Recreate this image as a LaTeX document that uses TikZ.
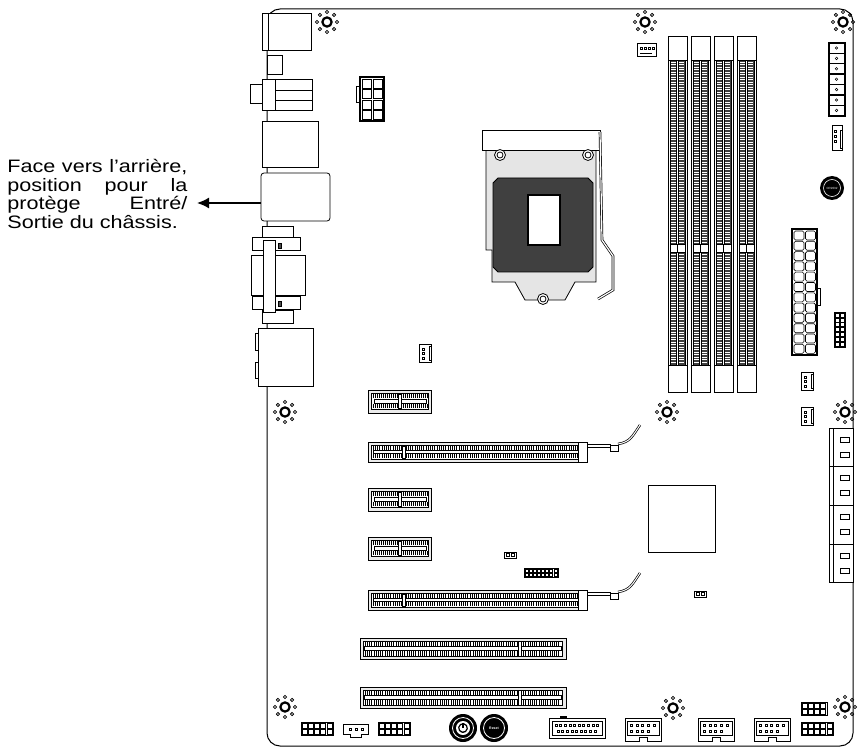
\documentclass[tikz,border=0pt]{standalone}
\usepackage{fontspec}
\setmainfont{Liberation Sans}
\usetikzlibrary{arrows.meta,calc}
\begin{document}
\begin{tikzpicture}[x=1pt,y=-1pt,line width=0.8pt,
  part/.style={draw=black,fill=white},
  dark/.style={draw=black,fill=black!70},
  lbl/.style={anchor=base west,inner sep=0pt,text height=12pt,text depth=3pt,font=\fontsize{18}{18}\selectfont}]
\useasboundingbox (0,0) rectangle (859,751);
\newcommand{\mbhole}[2]{%
  \draw[line width=2.2pt] (#1,#2) circle (4.6);
  \foreach \a in {0,45,...,315}{\draw[line width=0.8pt] ($(#1,#2)+(\a:10)$) circle (1.6);}}
\newcommand{\wline}[1]{\scalebox{1.2}[1]{\makebox[150pt][s]{#1}}}
% board
\draw[line width=1pt,rounded corners=13] (267,9) rectangle (853,746);
% text + arrow
\node[lbl] (t1) at (7,173) {\wline{Face vers l’arrière,}};
\node[lbl] (t2) at (7,191.5) {\wline{position pour la}};
\node[lbl] (t3) at (7,210) {\wline{protège Entré/}};
\node[lbl] (t4) at (7,228.5) {\scalebox{1.2}[1]{Sortie du châssis.}};
\coordinate (arrS) at (267,203);
\coordinate (arrE) at (197,203);
\draw[line width=1.6pt,-{Latex[length=12pt,width=11pt]}] (arrS) -- (arrE);
% I/O shield
\draw[part] (262,13) rectangle (311,50); \draw (268,13) -- (268,50);
\draw[part] (267,55) rectangle (282,74);
\draw[part] (250,84) rectangle (262,103);
\draw[part] (262,79) rectangle (312,110); \draw (275,79) -- (275,110); \draw (275,90) -- (312,90); \draw (275,100)--(312,100);
\draw[part] (262,121) rectangle (318,167);
\draw[part,rounded corners=3] (261,173) rectangle (330,221);
\draw[part] (262,226) rectangle (293,243);
\draw[part] (262,310) rectangle (293,323);
\draw[part] (252,237) rectangle (300,250);
\draw[part] (252,296) rectangle (300,309);
\draw[part] (251,255) rectangle (305,295);
\draw[part] (263,240) rectangle (275,312);
\draw[dark] (278,243) rectangle (281,248); \draw[dark] (278,301) rectangle (281,306);
\draw[part] (258,328) rectangle (313,386);
\draw[part] (255,333) rectangle (258,350); \draw[part] (255,362) rectangle (258,378);
% mounting holes
\mbhole{327}{22}\mbhole{645}{22}\mbhole{843}{22}
\mbhole{285}{412}\mbhole{667}{412}\mbhole{845}{412}
\mbhole{285}{707}\mbhole{673}{708}\mbhole{845}{707}
% CPU 8 pin
\draw[line width=1.5pt,fill=white] (360,77) rectangle (384,121);
\foreach \r in {0,1,2,3}{\foreach \c in {0,1}{\draw[line width=0.6pt] (362+\c*11,79+\r*10.5) rectangle (371+\c*11,88+\r*10.5);}}
\draw (356,86) rectangle (360,102);
% socket
\draw[part,fill=black!10] (486,145) -- (596,145) -- (596,282) -- (575,282) -- (565,300) -- (525,300) -- (515,282) -- (492,282) -- (492,250) -- (486,250) -- cycle;
\draw[part] (482,130) -- (600,130) -- (600,150) -- (482,150) -- cycle;
\foreach \p in {(500,155),(588,155),(543,299)}{\draw[part] \p circle (5.5); \draw \p circle (3);}
\draw[dark,fill=black!75] (498,178) -- (588,178) -- (593,183) -- (593,267) -- (588,272) -- (498,272) -- (493,267) -- (493,183) -- cycle;
\draw[part,line width=1.2pt] (528,195) rectangle (560,245);
\draw[line width=2.6pt] (600,132) -- (602,240) -- (613,256) -- (613,290) -- (598,299);
\draw[line width=1.2pt,white] (600,132) -- (602,240) -- (613,256) -- (613,290) -- (598,299);
% fan 4pin top
\draw[part] (637,43) rectangle (656,56);
\foreach \i in {0,1,2,3}{\draw[line width=0.5pt] (640+\i*4,47) rectangle (642+\i*4,49);}
\draw (640,53) -- (652,53);
% DIMMs
\foreach \x in {668,691,714,737}{
  \draw[part] (\x,36) rectangle (\x+19,392);
  \draw[dark,fill=black!75] (\x+2,60) rectangle (\x+17,365);
  \foreach \y in {62,64.5,...,362}{\draw[line width=0.3pt,white] (\x+3,\y) -- (\x+16,\y);}
  \draw[fill=white] (\x+8.5,60) rectangle (\x+10.5,365);
  \draw[part] (\x+2,244) rectangle (\x+17,252); \draw (\x+9.5,244)--(\x+9.5,252);
  \draw[part] (\x,36) rectangle (\x+19,60);
  \draw[part] (\x,365) rectangle (\x+19,392);
}
% right top connector
\draw[part] (828,42) rectangle (845,116);
\foreach \i in {0,...,6}{\draw (829,43+\i*10.4) rectangle (844,53+\i*10.4); \draw[line width=0.5pt] (836.5,48+\i*10.4) circle (1.3);}
\draw[part] (832,125) rectangle (842,150); \draw (840,130) rectangle (842,148);
\foreach \i in {0,1,2}{\draw[line width=0.5pt] (834,130+\i*5) rectangle (836,132+\i*5);}
% battery
\fill (832,188) circle (12); \draw[white,line width=0.6pt] (832,188) circle (8.5);
\node[font=\fontsize{3}{3}\selectfont,text=white,inner sep=0] (bat) at (832,188) {CR2032};
% ATX 24
\draw[line width=1.5pt,fill=white] (792,229) rectangle (817,355);
\foreach \r in {0,...,11}{\foreach \c in {0,1}{\draw[line width=0.6pt,rounded corners=1.5] (794+\c*11.5,231+\r*10.3) rectangle (804+\c*11.5,240+\r*10.3);}}
\draw (817,288) rectangle (820,305);
% small right header
\draw[part] (834,312) rectangle (845,347);
\foreach \r in {0,...,6}{\foreach \c in {0,1}{\draw[line width=0.5pt] (835+\c*5,313+\r*4.8) rectangle (839+\c*5,317+\r*4.8);}}
% 3 pin fans
\foreach \x/\y in {801/372,801/407,419/344}{
  \draw[part] (\x,\y) rectangle (\x+12,\y+18); \draw (\x+10,\y+2) rectangle (\x+12,\y+16);
  \foreach \i in {0,1,2}{\draw[line width=0.5pt] (\x+3,\y+4+\i*4.5) rectangle (\x+5,\y+6+\i*4.5);}}
% SATA
\foreach \i in {0,1,2,3}{
  \draw[part] (829,428+\i*38.7) rectangle (853,466.7+\i*38.7);
  \draw (829,428+\i*38.7) rectangle (833,466.7+\i*38.7);
  \draw (840,437+\i*38.7) rectangle (849,442+\i*38.7);
  \draw (840,452+\i*38.7) rectangle (849,457+\i*38.7);}
% PCIe x1
\foreach \y in {390,488,537}{
  \draw[part,fill=black!8] (368,\y) rectangle (431,\y+23);
  \draw[part] (371,\y+3) rectangle (428,\y+19);
  \foreach \t in {373,375,...,427}{\draw[line width=0.4pt] (\t,\y+4) -- (\t,\y+8); \draw[line width=0.4pt] (\t,\y+14) -- (\t,\y+18);}
  \draw[part] (374,\y+9) rectangle (426,\y+13);
  \draw[part] (398,\y+4) rectangle (401,\y+18);
}
% PCIe x16
\foreach \y in {442,590}{
  \draw[part,fill=black!8] (368,\y) rectangle (587,\y+20);
  \draw[part] (371,\y+3) rectangle (582,\y+17);
  \foreach \t in {373,375.2,...,580}{\draw[line width=0.4pt] (\t,\y+4) -- (\t,\y+8); \draw[line width=0.4pt] (\t,\y+12) -- (\t,\y+16);}
  \draw[part] (373,\y+8.5) rectangle (580,\y+11.5);
  \draw[part] (402,\y+4) rectangle (405,\y+16);
  \draw[part] (578,\y) rectangle (587,\y+20);
  \draw[part] (587,\y+2) rectangle (610,\y+5);
  \draw[part] (610,\y+3) rectangle (618,\y+9);
  \draw[line width=2.4pt] (618,\y+2) .. controls (630,\y) and (632,\y-5) .. (640,\y-17);
  \draw[line width=1pt,white] (618,\y+2) .. controls (630,\y) and (632,\y-5) .. (640,\y-17);
}
% PCI
\foreach \y in {638,687}{
  \draw[part,fill=black!8] (360,\y) rectangle (566,\y+21);
  \draw[part] (363,\y+3) rectangle (562,\y+18);
  \foreach \t in {365,367.2,...,560}{\draw[line width=0.4pt] (\t,\y+3) -- (\t,\y+8); \draw[line width=0.4pt] (\t,\y+13) -- (\t,\y+18);}
  \draw[part] (364,\y+8.5) rectangle (561,\y+12.5);
  \draw[part] (518,\y+3) rectangle (521,\y+18);
}
% chip and jumpers
\draw[part] (648,485) rectangle (715,552);
\foreach \x/\y in {504/552,694/591}{\draw[part,line width=0.6pt] (\x,\y) rectangle (\x+12,\y+6); \draw[line width=0.4pt] (\x+2,\y+1.5) rectangle (\x+5,\y+4.5) (\x+7,\y+1.5) rectangle (\x+10,\y+4.5);}
\draw[part,line width=0.6pt] (524,568) rectangle (558,577);
\foreach \i in {0,...,7}{\draw[line width=0.4pt] (525+\i*4.1,569) rectangle (528+\i*4.1,572) (525+\i*4.1,573) rectangle (528+\i*4.1,576);}
% bottom headers
\newcommand{\pinhdr}[3]{% x y n
  \draw[part,line width=0.6pt] (#1,#2) rectangle (#1+#3*6.2+1,#2+13);
  \foreach \i in {1,...,#3}{\draw[line width=0.5pt] (#1+\i*6.2-5.2,#2+1) rectangle (#1+\i*6.2-0.2,#2+6) (#1+\i*6.2-5.2,#2+7) rectangle (#1+\i*6.2-0.2,#2+12);}}
\pinhdr{301}{722}{5}
\pinhdr{378}{722}{5}
\pinhdr{801}{702}{4}
\pinhdr{801}{722}{5}
\draw[part] (343,724) -- (368,724) -- (368,734) -- (361,734) -- (361,737) -- (350,737) -- (350,734) -- (343,734) -- cycle;
\foreach \i in {0,1,2}{\draw[line width=0.5pt] (349+\i*6,728) rectangle (351+\i*6,730);}
% buttons
\fill (463,728) circle (14); \draw[white,line width=0.8pt] (463,728) circle (10.5);
\fill[white] (463,728) circle (7); \draw[line width=1.2pt] (463,728) ++(55:4.3) arc[start angle=55,end angle=485,radius=4.3]; \draw[line width=1.2pt] (463,722.5) -- (463,728);
\fill (494,728) circle (14); \draw[white,line width=0.8pt] (494,728) circle (10.5);
\node[font=\fontsize{3.5}{3.5}\selectfont\bfseries,text=white,inner sep=0] (rst) at (494,728) {Reset};
% USB3 header
\draw[part] (549,718) rectangle (605,738); \draw (552,721) rectangle (602,735);
\draw[fill=black] (560,716) rectangle (566,718);
\foreach \i in {0,...,9}{\draw[line width=0.4pt] (555+\i*4.6,724) rectangle (557+\i*4.6,726);}
\foreach \i in {0,...,8}{\draw[line width=0.4pt] (557+\i*4.6,730) rectangle (559+\i*4.6,732);}
% USB2 headers
\foreach \x in {625,698,754}{
  \draw[part] (\x,718) -- (\x+36,718) -- (\x+36,741) -- (\x+22,741) -- (\x+22,737) -- (\x+14,737) -- (\x+14,741) -- (\x,741) -- cycle;
  \draw (\x+2,721) rectangle (\x+34,735);
  \foreach \i in {0,...,4}{\draw[line width=0.4pt] (\x+5+\i*5.8,724) rectangle (\x+7+\i*5.8,726);}
  \foreach \i in {0,...,3}{\draw[line width=0.4pt] (\x+5+\i*5.8,730) rectangle (\x+7+\i*5.8,732);}
}
\end{tikzpicture}
\end{document}
